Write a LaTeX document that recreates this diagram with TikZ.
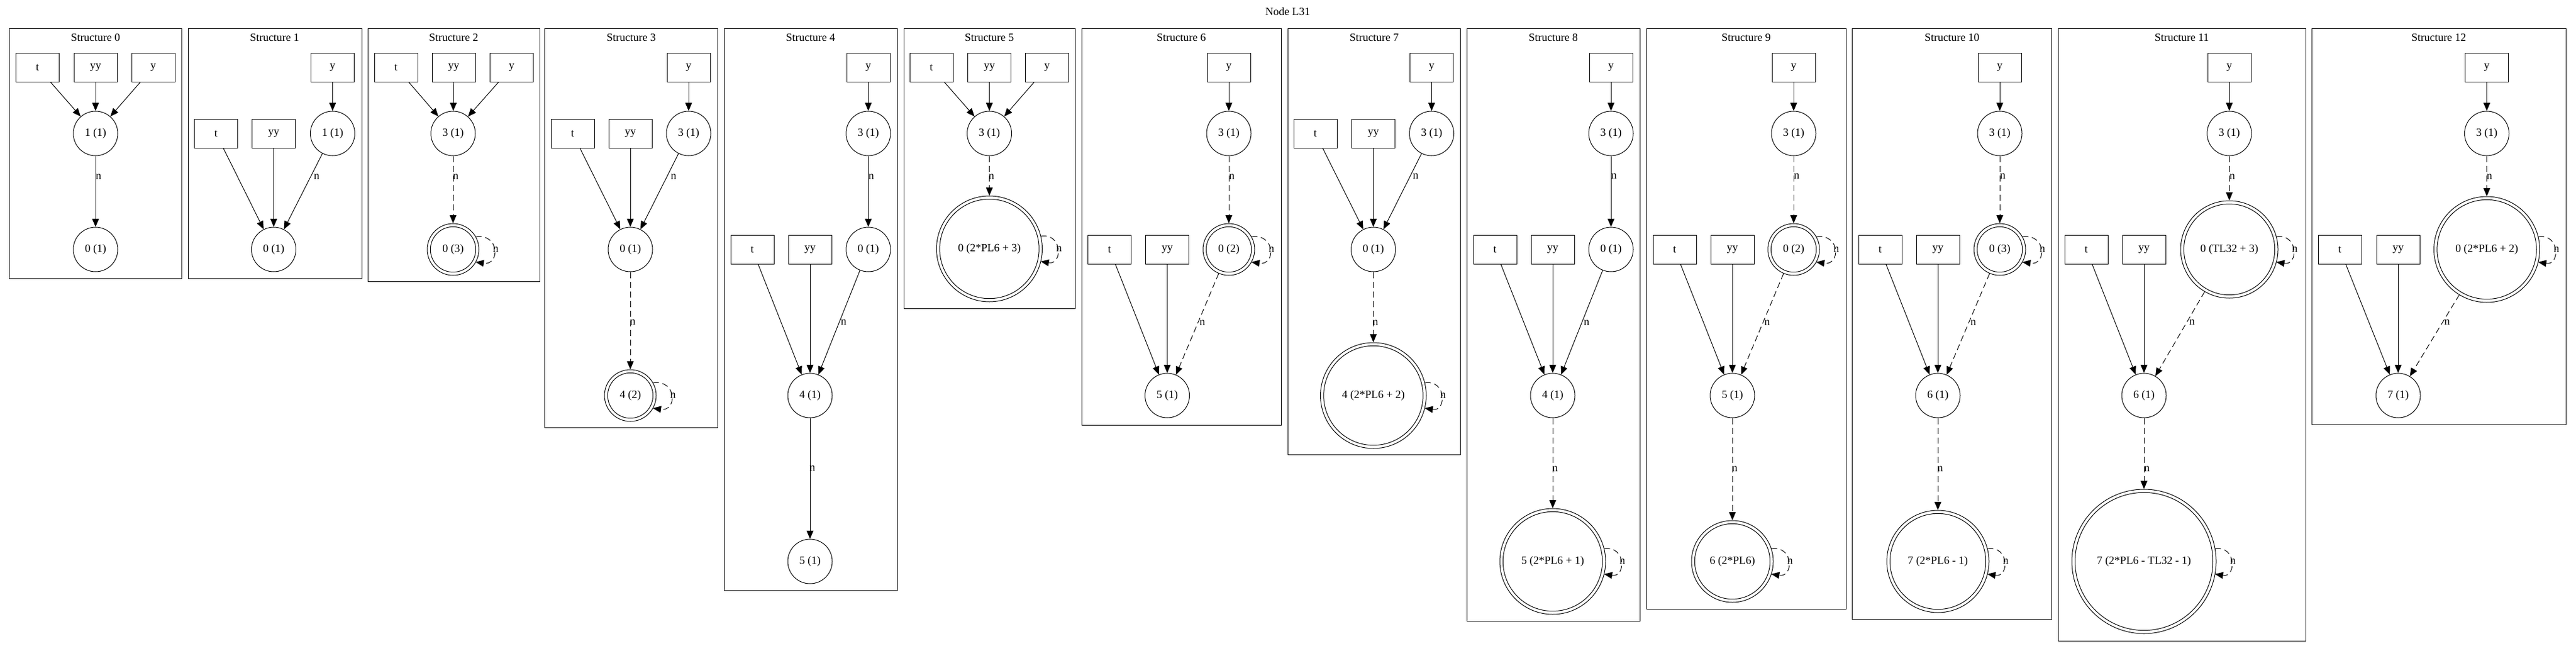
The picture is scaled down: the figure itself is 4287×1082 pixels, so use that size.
\documentclass[tikz,border=0pt]{standalone}
\usepackage{fontspec}
\setmainfont{Liberation Serif}
\usetikzlibrary{arrows.meta}
\tikzset{
  lw/.style={line width=0.5pt},
  bx/.style={draw, lw, rectangle, minimum width=36pt, minimum height=24pt, inner sep=0pt},
  cn/.style={draw, lw, circle, minimum size=37pt, inner sep=0pt},
  sedge/.style={lw, -{Triangle[length=6.8pt,width=5.6pt]}},
  dedge/.style={sedge, dash pattern=on 5pt off 3pt},
  lbl/.style={inner sep=0pt},
  cluster/.style={draw, lw},
}
\newcommand{\dblnode}[5]{%
  \node[cn, minimum size=#4pt] (#1) at (#2,#3) {#5};
  \draw[lw] (#1.center) circle[radius={(#4-5.3)*0.5pt}];}
\newcommand{\mkloop}[3]{%
  \pgfmathsetmacro{\lpx}{sqrt(#2*#2-441)}%
  \pgfmathsetmacro{\lpc}{(#2+25-\lpx)/0.75}%
  \draw[dedge] ([shift={(\lpx,-21)}]#1.center) .. controls +(\lpc,-6) and +(\lpc,6) .. ([shift={(\lpx,21)}]#1.center);
  \node[lbl] (#3) at ([shift={(#2+28,0)}]#1.center) {n};}
\begin{document}
\begin{tikzpicture}[x=0.5pt,y=-0.5pt,font=\fontsize{9.25}{11}\selectfont]
\fill[white] (0,0) rectangle (4287,1082);
\useasboundingbox (0,0) rectangle (4287,1082);
\node (title) at (2143,19) {Node L31};

% ---------- Structure 0
\draw[cluster] (15.5,47) rectangle (302,463);
\node (s0h) at (159,62) {Structure 0};
\node[bx] (s0t) at (62.5,112) {t};
\node[bx] (s0yy) at (159,112) {yy};
\node[bx] (s0y) at (255,112) {y};
\node[cn] (s0a) at (159,222) {1 (1)};
\node[cn] (s0b) at (159,415) {0 (1)};
\draw[sedge] (s0t) -- (s0a);
\draw[sedge] (s0yy) -- (s0a);
\draw[sedge] (s0y) -- (s0a);
\draw[sedge] (s0a) -- (s0b);
\node[lbl] (s0n1) at (164,294) {n};

% ---------- Structure 1
\draw[cluster] (313,47) rectangle (602,463);
\node (s1h) at (457,62) {Structure 1};
\node[bx] (s1y) at (553.5,112) {y};
\node[cn] (s1a) at (553.5,222) {1 (1)};
\node[bx] (s1t) at (359.5,222) {t};
\node[bx] (s1yy) at (455.5,222) {yy};
\node[cn] (s1b) at (455.5,415) {0 (1)};
\draw[sedge] (s1y) -- (s1a);
\draw[sedge] (s1t) -- (s1b);
\draw[sedge] (s1yy) -- (s1b);
\draw[sedge] (s1a) -- (s1b);
\node[lbl] (s1n1) at (527,294) {n};

% ---------- Structure 2
\draw[cluster] (612,47) rectangle (898,468);
\node (s2h) at (755,62) {Structure 2};
\node[bx] (s2t) at (659,112) {t};
\node[bx] (s2yy) at (755,112) {yy};
\node[bx] (s2y) at (851.5,112) {y};
\node[cn] (s2a) at (754,222) {3 (1)};
\dblnode{s2b}{754}{415}{43}{0 (3)}
\draw[sedge] (s2t) -- (s2a);
\draw[sedge] (s2yy) -- (s2a);
\draw[sedge] (s2y) -- (s2a);
\draw[dedge] (s2a) -- (s2b);
\node[lbl] (s2n1) at (758.5,294) {n};
\mkloop{s2b}{43}{s2n2}

% ---------- Structure 3
\draw[cluster] (906.5,47) rectangle (1194.7,711);
\node (s3h) at (1050.5,62) {Structure 3};
\node[bx] (s3y) at (1146,112) {y};
\node[cn] (s3a) at (1146,222) {3 (1)};
\node[bx] (s3t) at (953,222) {t};
\node[bx] (s3yy) at (1049,222) {yy};
\node[cn] (s3b) at (1049,415) {0 (1)};
\dblnode{s3c}{1049}{658}{43}{4 (2)}
\draw[sedge] (s3y) -- (s3a);
\draw[sedge] (s3a) -- (s3b);
\node[lbl] (s3n1) at (1121,294) {n};
\draw[sedge] (s3t) -- (s3b);
\draw[sedge] (s3yy) -- (s3b);
\draw[dedge] (s3b) -- (s3c);
\node[lbl] (s3n2) at (1053,536) {n};
\mkloop{s3c}{43}{s3n3}

% ---------- Structure 4
\draw[cluster] (1205,47) rectangle (1493,982);
\node (s4h) at (1349,62) {Structure 4};
\node[bx] (s4y) at (1445,112) {y};
\node[cn] (s4a) at (1445,222) {3 (1)};
\node[cn] (s4b) at (1445,415) {0 (1)};
\node[bx] (s4t) at (1252,415) {t};
\node[bx] (s4yy) at (1348,415) {yy};
\node[cn] (s4c) at (1348,658) {4 (1)};
\node[cn] (s4d) at (1348,934) {5 (1)};
\draw[sedge] (s4y) -- (s4a);
\draw[sedge] (s4a) -- (s4b);
\node[lbl] (s4n1) at (1450,294) {n};
\draw[sedge] (s4t) -- (s4c);
\draw[sedge] (s4yy) -- (s4c);
\draw[sedge] (s4b) -- (s4c);
\node[lbl] (s4n2) at (1404,536) {n};
\draw[sedge] (s4c) -- (s4d);
\node[lbl] (s4n3) at (1352,779) {n};

% ---------- Structure 5
\draw[cluster] (1504,47) rectangle (1789,513);
\node (s5h) at (1646.5,62) {Structure 5};
\node[bx] (s5t) at (1550,112) {t};
\node[bx] (s5yy) at (1646.5,112) {yy};
\node[bx] (s5y) at (1742.5,112) {y};
\node[cn] (s5a) at (1646.5,222) {3 (1)};
\dblnode{s5b}{1646.5}{414}{88}{0 (2*PL6 + 3)}
\draw[sedge] (s5t) -- (s5a);
\draw[sedge] (s5yy) -- (s5a);
\draw[sedge] (s5y) -- (s5a);
\draw[dedge] (s5a) -- (s5b);
\node[lbl] (s5n1) at (1650,294) {n};
\mkloop{s5b}{88}{s5n2}

% ---------- Structure 6
\draw[cluster] (1800,47) rectangle (2132,707);
\node (s6h) at (1966,62) {Structure 6};
\node[bx] (s6y) at (2045,112) {y};
\node[cn] (s6a) at (2045,222) {3 (1)};
\dblnode{s6b}{2045}{415}{43}{0 (2)}
\node[bx] (s6t) at (1846.5,415) {t};
\node[bx] (s6yy) at (1942.5,415) {yy};
\node[cn] (s6c) at (1942.5,658) {5 (1)};
\draw[sedge] (s6y) -- (s6a);
\draw[dedge] (s6a) -- (s6b);
\node[lbl] (s6n1) at (2050,294) {n};
\mkloop{s6b}{43}{s6n2}
\draw[sedge] (s6t) -- (s6c);
\draw[sedge] (s6yy) -- (s6c);
\draw[dedge] (s6b) -- (s6c);
\node[lbl] (s6n3) at (2001,537) {n};

% ---------- Structure 7
\draw[cluster] (2143,47) rectangle (2430.5,756);
\node (s7h) at (2287,62) {Structure 7};
\node[bx] (s7y) at (2382.5,112) {y};
\node[cn] (s7a) at (2382.5,222) {3 (1)};
\node[bx] (s7t) at (2189,222) {t};
\node[bx] (s7yy) at (2285.5,222) {yy};
\node[cn] (s7b) at (2285.5,415) {0 (1)};
\dblnode{s7c}{2285.5}{658}{88}{4 (2*PL6 + 2)}
\draw[sedge] (s7y) -- (s7a);
\draw[sedge] (s7a) -- (s7b);
\node[lbl] (s7n1) at (2356,293) {n};
\draw[sedge] (s7t) -- (s7b);
\draw[sedge] (s7yy) -- (s7b);
\draw[dedge] (s7b) -- (s7c);
\node[lbl] (s7n2) at (2289,537) {n};
\mkloop{s7c}{88}{s7n3}

% ---------- Structure 8
\draw[cluster] (2441.6,47) rectangle (2729,1033);
\node (s8h) at (2585,62) {Structure 8};
\node[bx] (s8y) at (2681,112) {y};
\node[cn] (s8a) at (2681,222) {3 (1)};
\node[cn] (s8b) at (2681,415) {0 (1)};
\node[bx] (s8t) at (2488,415) {t};
\node[bx] (s8yy) at (2584,415) {yy};
\node[cn] (s8c) at (2584,658) {4 (1)};
\dblnode{s8d}{2584}{934}{88}{5 (2*PL6 + 1)}
\draw[sedge] (s8y) -- (s8a);
\draw[sedge] (s8a) -- (s8b);
\node[lbl] (s8n1) at (2686,293) {n};
\draw[sedge] (s8t) -- (s8c);
\draw[sedge] (s8yy) -- (s8c);
\draw[sedge] (s8b) -- (s8c);
\node[lbl] (s8n2) at (2640.5,537) {n};
\draw[dedge] (s8c) -- (s8d);
\node[lbl] (s8n3) at (2588,780) {n};
\mkloop{s8d}{88}{s8n4}

% ---------- Structure 9
\draw[cluster] (2740,47) rectangle (3072,1013);
\node (s9h) at (2906,62) {Structure 9};
\node[bx] (s9y) at (2985,112) {y};
\node[cn] (s9a) at (2985,222) {3 (1)};
\dblnode{s9b}{2985}{415}{43}{0 (2)}
\node[bx] (s9t) at (2787,415) {t};
\node[bx] (s9yy) at (2883,415) {yy};
\node[cn] (s9c) at (2883,658) {5 (1)};
\dblnode{s9d}{2883}{934}{68}{6 (2*PL6)}
\draw[sedge] (s9y) -- (s9a);
\draw[dedge] (s9a) -- (s9b);
\node[lbl] (s9n1) at (2990,293) {n};
\mkloop{s9b}{43}{s9n2}
\draw[sedge] (s9t) -- (s9c);
\draw[sedge] (s9yy) -- (s9c);
\draw[dedge] (s9b) -- (s9c);
\node[lbl] (s9n3) at (2941,537) {n};
\draw[dedge] (s9c) -- (s9d);
\node[lbl] (s9n4) at (2887,780) {n};
\mkloop{s9d}{68}{s9n5}

% ---------- Structure 10
\draw[cluster] (3082.6,47) rectangle (3414.6,1030);
\node (s10h) at (3248.6,62) {Structure 10};
\node[bx] (s10y) at (3328,112) {y};
\node[cn] (s10a) at (3328,222) {3 (1)};
\dblnode{s10b}{3328}{415}{43}{0 (3)}
\node[bx] (s10t) at (3129,415) {t};
\node[bx] (s10yy) at (3225,415) {yy};
\node[cn] (s10c) at (3225,658) {6 (1)};
\dblnode{s10d}{3225}{934}{85}{7 (2*PL6 - 1)}
\draw[sedge] (s10y) -- (s10a);
\draw[dedge] (s10a) -- (s10b);
\node[lbl] (s10n1) at (3333,293) {n};
\mkloop{s10b}{43}{s10n2}
\draw[sedge] (s10t) -- (s10c);
\draw[sedge] (s10yy) -- (s10c);
\draw[dedge] (s10b) -- (s10c);
\node[lbl] (s10n3) at (3284,537) {n};
\draw[dedge] (s10c) -- (s10d);
\node[lbl] (s10n4) at (3229,780) {n};
\mkloop{s10d}{85}{s10n5}

% ---------- Structure 11
\draw[cluster] (3425,47) rectangle (3837,1066);
\node (s11h) at (3631,62) {Structure 11};
\node[bx] (s11y) at (3710,112) {y};
\node[cn] (s11a) at (3710,222) {3 (1)};
\dblnode{s11b}{3710}{415}{81}{0 (TL32 + 3)}
\node[bx] (s11t) at (3472,415) {t};
\node[bx] (s11yy) at (3568,415) {yy};
\node[cn] (s11c) at (3568,658) {6 (1)};
\dblnode{s11d}{3568}{934}{120}{7 (2*PL6 - TL32 - 1)}
\draw[sedge] (s11y) -- (s11a);
\draw[dedge] (s11a) -- (s11b);
\node[lbl] (s11n1) at (3715,294) {n};
\mkloop{s11b}{81}{s11n2}
\draw[sedge] (s11t) -- (s11c);
\draw[sedge] (s11yy) -- (s11c);
\draw[dedge] (s11b) -- (s11c);
\node[lbl] (s11n3) at (3648,536) {n};
\draw[dedge] (s11c) -- (s11d);
\node[lbl] (s11n4) at (3573,780) {n};
\mkloop{s11d}{120}{s11n5}

% ---------- Structure 12
\draw[cluster] (3847,47) rectangle (4270,706);
\node (s12h) at (4058.5,62) {Structure 12};
\node[bx] (s12y) at (4138.5,112) {y};
\node[cn] (s12a) at (4138.5,222) {3 (1)};
\dblnode{s12b}{4138.5}{415}{88}{0 (2*PL6 + 2)}
\node[bx] (s12t) at (3894,415) {t};
\node[bx] (s12yy) at (3991,415) {yy};
\node[cn] (s12c) at (3991,658) {7 (1)};
\draw[sedge] (s12y) -- (s12a);
\draw[dedge] (s12a) -- (s12b);
\node[lbl] (s12n1) at (4143,294) {n};
\mkloop{s12b}{88}{s12n2}
\draw[sedge] (s12t) -- (s12c);
\draw[sedge] (s12yy) -- (s12c);
\draw[dedge] (s12b) -- (s12c);
\node[lbl] (s12n3) at (4072.5,536) {n};
\end{tikzpicture}
\end{document}
